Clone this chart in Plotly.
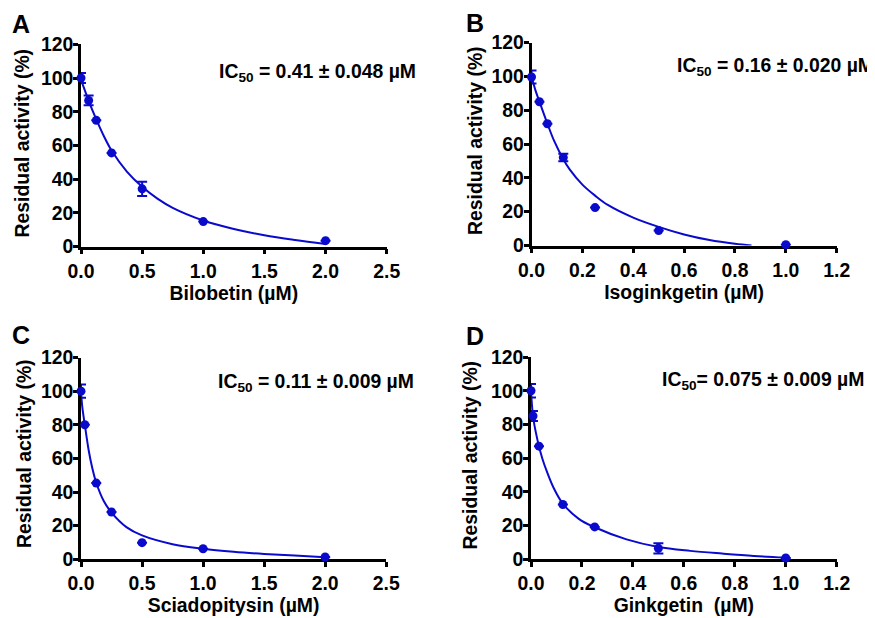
import plotly.graph_objects as go

# ---------------- data ----------------
# Panel A: Bilobetin
a_x = [0, 0.0625, 0.125, 0.25, 0.5, 1.0, 2.0]
a_y = [100, 86.7, 74.9, 55.6, 34.3, 14.9, 3.6]
a_err = [3.0, 2.9, None, None, 4.2, None, None]
a_fit_x = [0, 0.03, 0.0625, 0.125, 0.1875, 0.25, 0.375, 0.5, 0.625, 0.75, 1.0, 1.25, 1.5, 1.75, 2.0]
a_fit_y = [99, 93, 86.5, 75.5, 65.5, 57, 44.5, 35.5, 28.5, 23, 15.5, 10.5, 6.8, 4, 1.6]

# Panel B: Isoginkgetin
b_x = [0, 0.03125, 0.0625, 0.125, 0.25, 0.5, 1.0]
b_y = [99.6, 85, 72, 52, 22.4, 8.8, 0.5]
b_err = [3.9, None, None, 2.2, None, None, None]
b_fit_x = [0, 0.015, 0.03125, 0.0625, 0.09, 0.125, 0.15, 0.2, 0.25, 0.3, 0.4, 0.5, 0.6, 0.7, 0.8, 0.865]
b_fit_y = [100, 92, 85, 72, 61.5, 51, 45, 36, 29.5, 24, 16.5, 11, 6.5, 3.2, 1, 0]

# Panel C: Sciadopitysin
c_x = [0, 0.03125, 0.125, 0.25, 0.5, 1.0, 2.0]
c_y = [100, 80, 45.3, 28.1, 9.9, 6.3, 1.4]
c_err = [4.0, None, None, None, None, None, None]
c_fit_x = [0, 0.01, 0.03125, 0.0625, 0.09, 0.125, 0.1875, 0.25, 0.375, 0.5, 0.75, 1.0, 1.25, 1.5, 1.75, 2.0]
c_fit_y = [100, 91, 80, 65, 55, 45.5, 34.5, 27.8, 19, 14.2, 9, 6.3, 4.5, 3.2, 2.2, 1.2]

# Panel D: Ginkgetin
d_x = [0, 0.0078, 0.03125, 0.125, 0.25, 0.5, 1.0]
d_y = [100, 85, 67.1, 32.5, 19.2, 6.5, 0.8]
d_err = [4.0, 3.0, None, None, None, 3.0, None]
d_fit_x = [0, 0.0078, 0.018, 0.03125, 0.045, 0.0625, 0.09, 0.125, 0.1875, 0.25, 0.375, 0.5, 0.625, 0.75, 0.875, 1.0]
d_fit_y = [100, 85, 76, 67, 59.5, 52, 42, 33, 24, 19, 11.8, 7.3, 5, 3.4, 2, 1]

x_titles = ["Bilobetin (µM)", "Isoginkgetin (µM)", "Sciadopitysin (µM)", "Ginkgetin  (µM)"]
y_title = "Residual activity (%)"
ic50_texts = ["IC<sub>50</sub> = 0.41 ± 0.048 µM", "IC<sub>50</sub> = 0.16 ± 0.020 µM",
              "IC<sub>50</sub> = 0.11 ± 0.009 µM", "IC<sub>50</sub>= 0.075 ± 0.009 µM"]
panel_letters = ["A", "B", "C", "D"]
y_ticks = [0, 20, 40, 60, 80, 100, 120]
x_ticks_long = [0, 0.5, 1.0, 1.5, 2.0, 2.5]
x_ticks_short = [0, 0.2, 0.4, 0.6, 0.8, 1.0, 1.2]

# ---------------- layout geometry ----------------
# The page body has an 8px margin, so the figure starts 8px into the window.
OFF = 8
W, H = 875 - OFF, 618 - OFF
BLUE = "#0A0ACD"
FONT = "Liberation Sans, Arial, Helvetica, sans-serif"
FS = 19.4

def px_x(v):
    return (v - OFF) / W

def px_y(v):
    return 1 - (v - OFF) / H

panels = [
    dict(pts=(a_x, a_y, a_err), fit=(a_fit_x, a_fit_y), xt=x_ticks_long, xr=[0, 2.5],
         dom_x=[px_x(81), px_x(386.7)], dom_y=[px_y(246.7), px_y(44.3)],
         ic=(217, 72), letter=(10, 24.5), ytitle=(21.5, 143)),
    dict(pts=(b_x, b_y, b_err), fit=(b_fit_x, b_fit_y), xt=x_ticks_short, xr=[0, 1.2],
         dom_x=[px_x(531.5), px_x(836.7)], dom_y=[px_y(245.5), px_y(42.5)],
         ic=(674.5, 66), letter=(464, 23), ytitle=(475, 141)),
    dict(pts=(c_x, c_y, c_err), fit=(c_fit_x, c_fit_y), xt=x_ticks_long, xr=[0, 2.5],
         dom_x=[px_x(81), px_x(386.2)], dom_y=[px_y(559.3), px_y(357.5)],
         ic=(216, 382), letter=(10, 334.5), ytitle=(24, 454)),
    dict(pts=(d_x, d_y, d_err), fit=(d_fit_x, d_fit_y), xt=x_ticks_short, xr=[0, 1.2],
         dom_x=[px_x(531), px_x(836.7)], dom_y=[px_y(559.3), px_y(357)],
         ic=(660, 381), letter=(464, 335.5), ytitle=(469, 455.5)),
]

fig = go.Figure()
annotations = []
for i, p in enumerate(panels):
    n = i + 1
    xa = "x" if n == 1 else f"x{n}"
    ya = "y" if n == 1 else f"y{n}"
    px_, py_, pe_ = p["pts"]
    fx, fy = p["fit"]
    fig.add_trace(go.Scatter(
        x=fx, y=fy, mode="lines", xaxis=xa, yaxis=ya,
        line=dict(color=BLUE, width=2, shape="spline", smoothing=1.0),
        cliponaxis=False, showlegend=False, hoverinfo="skip"))
    fig.add_trace(go.Scatter(
        x=px_, y=py_, mode="markers", xaxis=xa, yaxis=ya,
        marker=dict(color=BLUE, size=9, line=dict(width=0)),
        error_y=dict(type="data", array=pe_, symmetric=True, color=BLUE,
                     thickness=2, width=5),
        cliponaxis=False, showlegend=False))

    axis_common = dict(
        showline=True, linecolor="black", linewidth=2.5, automargin=False,
        ticks="outside", ticklen=5, tickwidth=2.5, tickcolor="black",
        showgrid=False, zeroline=False, layer="below traces",
        tickfont=dict(family=FONT, size=FS, color="black", weight="bold"),
    )
    xkey = "xaxis" if n == 1 else f"xaxis{n}"
    ykey = "yaxis" if n == 1 else f"yaxis{n}"
    fig.update_layout(**{
        xkey: dict(axis_common, domain=p["dom_x"], anchor=ya, range=p["xr"],
                   tickmode="array", tickvals=p["xt"], tickformat=".1f",
                   title=dict(text=x_titles[i], standoff=4,
                              font=dict(family=FONT, size=FS, color="black", weight="bold"))),
        ykey: dict(axis_common, domain=p["dom_y"], anchor=xa, range=[0, 120],
                   tickmode="array", tickvals=y_ticks, ticklabelstandoff=-4),
    })

    # y-axis title placed as rotated text beside the axis
    annotations.append(dict(
        text=y_title, xref="paper", yref="paper", textangle=-90,
        x=px_x(p["ytitle"][0]), y=px_y(p["ytitle"][1]), xanchor="center", yanchor="middle",
        showarrow=False, font=dict(family=FONT, size=FS, color="black", weight="bold")))
    annotations.append(dict(
        text=ic50_texts[i], xref="paper", yref="paper",
        x=px_x(p["ic"][0]), y=px_y(p["ic"][1]), xanchor="left", yanchor="middle",
        showarrow=False, font=dict(family=FONT, size=FS, color="black", weight="bold")))
    annotations.append(dict(
        text=panel_letters[i], xref="paper", yref="paper",
        x=px_x(p["letter"][0]), y=px_y(p["letter"][1]), xanchor="left", yanchor="middle",
        showarrow=False, font=dict(family=FONT, size=25, color="black", weight="bold")))

fig.update_layout(
    template="none",
    width=W, height=H,
    margin=dict(l=0, r=0, t=0, b=0, pad=0),
    paper_bgcolor="white", plot_bgcolor="white",
    annotations=annotations,
    showlegend=False,
)

fig.write_html("out.html")
